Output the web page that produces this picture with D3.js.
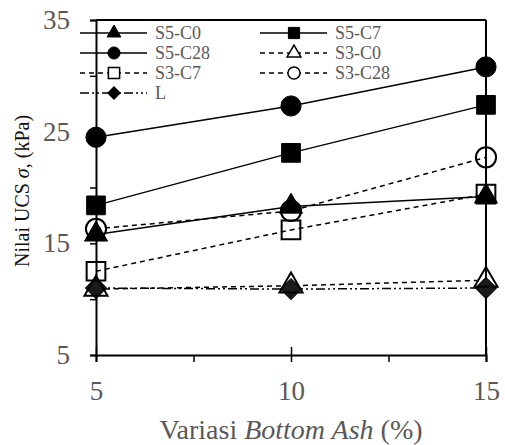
<!DOCTYPE html>
<html>
<head>
<meta charset="utf-8">
<script src="https://cdn.jsdelivr.net/npm/d3@7"></script>
<style>
  body { margin: 0; background: #fff; }
  text { font-family: "Liberation Serif", "Times New Roman", serif; }
</style>
</head>
<body>
<script>
const w = 505;
const h = 445;
const margin = {top: 20, right: 19, bottom: 90, left: 96};

// data
const ashPct = [5, 10, 15];
const s5c0 = [15.8, 18.3, 19.2];
const s5c7 = [18.4, 23.1, 27.4];
const s5c28 = [24.5, 27.3, 30.8];
const s3c0 = [10.9, 11.2, 11.7];
const s3c7 = [12.5, 16.2, 19.4];
const s3c28 = [16.3, 17.9, 22.7];
const lVals = [11.0, 10.9, 11.0];

const xTicks = [5, 10, 15];
const xMinor = [7.5, 12.5];
const yTicks = [5, 15, 25, 35];
const yMinor = [10, 20, 30];

const series = [
  {name: 'S5-C0', vals: s5c0, sym: 'tri', fill: true, dash: null},
  {name: 'S5-C7', vals: s5c7, sym: 'sq', fill: true, dash: null},
  {name: 'S5-C28', vals: s5c28, sym: 'circ', fill: true, dash: null},
  {name: 'S3-C0', vals: s3c0, sym: 'tri', fill: false, dash: '5,4'},
  {name: 'S3-C7', vals: s3c7, sym: 'sq', fill: false, dash: '5,4'},
  {name: 'S3-C28', vals: s3c28, sym: 'circ', fill: false, dash: '5,4'},
  {name: 'L', vals: lVals, sym: 'dia', fill: true, dash: '9,3,2,3,2,3'}
];

let svg = d3.select('body').append('svg')
  .attr('width', w)
  .attr('height', h);

let x = d3.scaleLinear().domain([5, 15]).range([margin.left, w - margin.right]);
let y = d3.scaleLinear().domain([5, 35]).range([h - margin.bottom, margin.top]);

let symPath = (kind, scale) => {
  let s = scale || 1;
  if (kind === 'tri') return d3.symbol(d3.symbolTriangle, 230 * s * s)();
  if (kind === 'sq') return d3.symbol(d3.symbolSquare, 350 * s * s)();
  if (kind === 'circ') return d3.symbol(d3.symbolCircle, 320 * s * s)();
  return d3.symbol(d3.symbolSquare, 220 * s * s)();
};

// frame top & right
svg.append('line').attr('x1', x(5)).attr('x2', x(15)).attr('y1', y(35)).attr('y2', y(35))
  .attr('stroke', '#000').attr('stroke-width', 2);
svg.append('line').attr('x1', x(15)).attr('x2', x(15)).attr('y1', y(35)).attr('y2', y(5))
  .attr('stroke', '#000').attr('stroke-width', 2);

// axes
let xAxis = svg.append('g')
  .attr('transform', 'translate(0,' + y(5) + ')')
  .call(d3.axisBottom(x).tickValues(xTicks).tickSize(7).tickPadding(19).tickFormat(d3.format('d')));
svg.append('g')
  .attr('transform', 'translate(0,' + y(5) + ')')
  .call(d3.axisBottom(x).tickValues(xTicks).tickSize(-8).tickFormat(''))
  .call(g => g.select('.domain').remove());
svg.append('g')
  .attr('transform', 'translate(0,' + y(5) + ')')
  .call(d3.axisBottom(x).tickValues(xMinor).tickSize(7).tickFormat(''))
  .call(g => g.select('.domain').remove());

let yAxis = svg.append('g')
  .attr('transform', 'translate(' + x(5) + ',0)')
  .call(d3.axisLeft(y).tickValues(yTicks).tickSize(6).tickPadding(20).tickFormat(d3.format('d')));
svg.append('g')
  .attr('transform', 'translate(' + x(5) + ',0)')
  .call(d3.axisLeft(y).tickValues(yMinor).tickSize(6).tickFormat(''))
  .call(g => g.select('.domain').remove());

svg.selectAll('.domain').attr('stroke', '#000').attr('stroke-width', 2);
svg.selectAll('.tick line').attr('stroke', '#000').attr('stroke-width', 1.5);
svg.selectAll('.tick text')
  .attr('fill', '#595959')
  .style('font-family', '"Liberation Serif", serif')
  .style('font-size', '27px');

// axis titles
svg.append('text')
  .attr('x', 291)
  .attr('y', 439)
  .attr('text-anchor', 'middle')
  .attr('fill', '#595959')
  .style('font-size', '28px')
  .html('Variasi <tspan font-style="italic">Bottom Ash</tspan> (%)');

svg.append('text')
  .attr('transform', 'translate(29,191) rotate(-90)')
  .attr('text-anchor', 'middle')
  .attr('fill', '#111')
  .style('font-size', '20px')
  .html('Nilai UCS <tspan font-style="italic">σ</tspan>, (kPa)');

// lines and markers (draw in reverse so S5 sits on top)
let line = d3.line().x((d, i) => x(ashPct[i])).y(d => y(d));

series.slice().reverse().forEach(s => {
  svg.append('path')
    .datum(s.vals)
    .attr('d', line)
    .attr('fill', 'none')
    .attr('stroke', '#000')
    .attr('stroke-width', 1.5)
    .attr('stroke-dasharray', s.dash);
});

series.slice().reverse().forEach(s => {
  svg.selectAll(null)
    .data(s.vals)
    .enter()
    .append('path')
    .attr('d', symPath(s.sym))
    .attr('transform', (d, i) => 'translate(' + x(ashPct[i]) + ',' + y(d) + ')' + (s.sym === 'dia' ? ' rotate(45)' : ''))
    .attr('fill', s.fill ? (s.sym === 'dia' ? '#1a1a1a' : '#000') : 'none')
    .attr('stroke', '#000')
    .attr('stroke-width', s.fill ? 1 : 2);
});

// legend
let legCols = [80, 260];
let legRows = [33, 53, 73, 93];
series.forEach((s, i) => {
  let lx = legCols[i % 2];
  let ly = legRows[Math.floor(i / 2)];
  let g = svg.append('g').attr('transform', 'translate(' + lx + ',' + ly + ')');
  g.append('line')
    .attr('x1', 0).attr('x2', 67).attr('y1', 0).attr('y2', 0)
    .attr('stroke', '#000').attr('stroke-width', 1.5)
    .attr('stroke-dasharray', s.dash);
  g.append('path')
    .attr('d', symPath(s.sym, 0.6))
    .attr('transform', 'translate(34,0)' + (s.sym === 'dia' ? ' rotate(45)' : ''))
    .attr('fill', s.fill ? '#000' : '#fff')
    .attr('stroke', '#000')
    .attr('stroke-width', s.fill ? 1 : 1.5);
  g.append('text')
    .attr('x', 75)
    .attr('y', 6)
    .attr('fill', '#595959')
    .style('font-size', '18px')
    .text(s.name);
});
</script>
</body>
</html>
